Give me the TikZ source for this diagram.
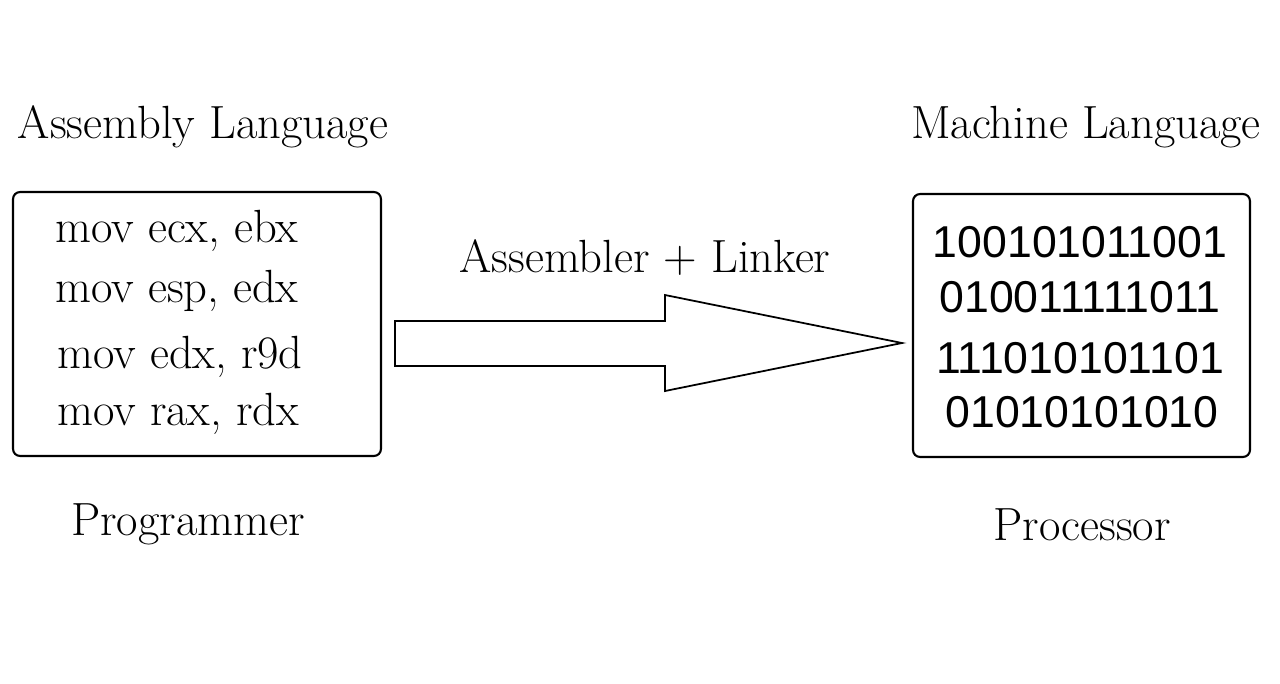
\documentclass[tikz,border=0pt]{standalone}
\usepackage{fontspec}
\usetikzlibrary{calc}
\newfontfamily\bitsfont{Liberation Sans}

\begin{document}
\begin{tikzpicture}[x=0.02cm,y=-0.02cm,
    box/.style={draw,line width=1.2pt,rounded corners=4pt,inner sep=0pt},
    label/.style={inner sep=0pt,anchor=base,font=\fontsize{26.5}{30}\selectfont},
    codeline/.style={inner sep=0pt,anchor=base west,font=\fontsize{26.5}{30}\selectfont},
    bitline/.style={inner sep=0pt,anchor=base,font=\bitsfont\fontsize{25.4}{30}\selectfont},
    fatarrow/.style={draw,line width=1pt,fill=white}]
    \useasboundingbox (0,0) rectangle (1280,683);
    %\draw[help lines,step=50] (0,0) grid (1280,683);
    \node[box,minimum width=7.36cm,minimum height=5.28cm] (asm) at (197,324) {};
    \node[box,minimum width=6.74cm,minimum height=5.26cm] (mach) at (1081.5,325.5) {};

    \node[label] (title0) at (203,138) {Assembly Language};
    \node[label] (title1) at (1086,138) {Machine Language};
    \node[label] (user0) at (188,535) {Programmer};
    \node[label] (user1) at (1082,540) {Processor};

    \node[codeline] (code0) at (55,242) {mov ecx, ebx};
    \node[codeline] (code1) at (55,302) {mov esp, edx};
    \node[codeline] (code2) at (57,368) {mov edx, r9d};
    \node[codeline] (code3) at (57,425) {mov rax, rdx};

    \node[bitline] (bits0) at (1080,257) {100101011001};
    \node[bitline] (bits1) at (1080,312) {010011111011};
    \node[bitline] (bits2) at (1080,373) {111010101101};
    \node[bitline] (bits3) at (1082,427) {01010101010};

    \coordinate (tail) at ($(asm.east|-0,343)+(13,0)$);
    \coordinate (tip) at ($(mach.west|-0,343)+(-10,0)$);
    \draw[fatarrow] (tail) ++(0,-22) -- ++(270,0) -- ++(0,-26) -- (tip)
        -- ($(tail)+(270,48)$) -- ++(0,-25) -- ($(tail)+(0,23)$) -- cycle;
    \node[label] (tool) at (645,272) {Assembler + Linker};
\end{tikzpicture}
\end{document}
